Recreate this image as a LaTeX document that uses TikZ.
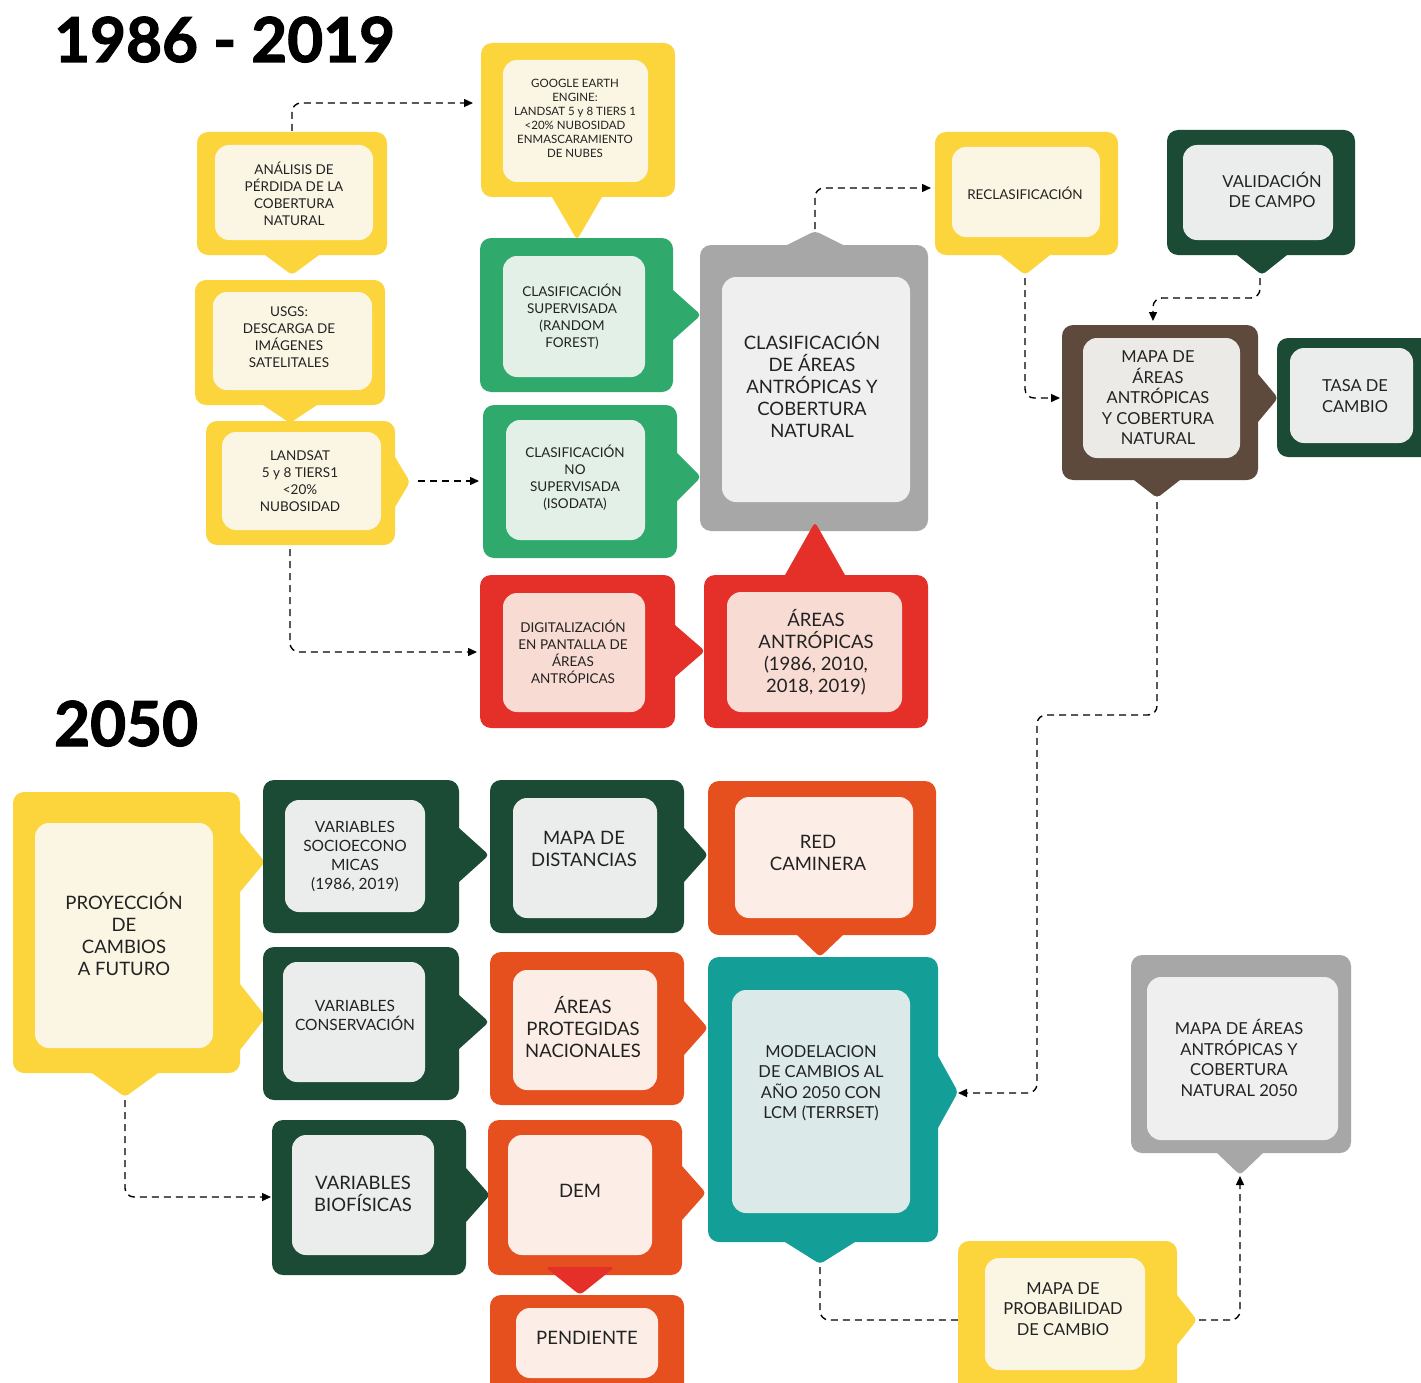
\documentclass[tikz,border=0pt]{standalone}
\usepackage{fontspec}
\setmainfont{Lato}
\newfontfamily\titlefont{Lato}[FakeBold=1.8]
\usetikzlibrary{arrows.meta}
\definecolor{yel}{HTML}{FCD43C}
\definecolor{yelin}{HTML}{FBF5E3}
\definecolor{grn}{HTML}{2FAA6C}
\definecolor{grnin}{HTML}{E2F0E7}
\definecolor{gry}{HTML}{A7A7A7}
\definecolor{gryin}{HTML}{EFEFEF}
\definecolor{redc}{HTML}{E5302A}
\definecolor{redin}{HTML}{F8DBD2}
\definecolor{dkg}{HTML}{1B4A35}
\definecolor{dkgin}{HTML}{EBEDEC}
\definecolor{brn}{HTML}{5D4A3D}
\definecolor{brnin}{HTML}{ECEAE7}
\definecolor{org}{HTML}{E6501F}
\definecolor{orgin}{HTML}{FCEEE6}
\definecolor{tealc}{HTML}{139F97}
\definecolor{tealin}{HTML}{DCE9E9}
\definecolor{txtc}{HTML}{222222}
\newcommand\obox[5]{\fill[#5,rounded corners=11pt] (#1,#2) rectangle (#3,#4);}
\newcommand\ibox[5]{\fill[#5,rounded corners=14pt] (#1,#2) rectangle (#3,#4);}
% pointer: name, x, y (base on edge), half width, length, colour
\newcommand\ptrD[6]{\fill[#6,rounded corners=4pt] ({#2-#4*(#5+8)/#5},{#3-8}) -- (#2,{#3+#5}) -- ({#2+#4*(#5+8)/#5},{#3-8}) -- cycle; \coordinate (#1) at (#2,{#3+#5});}
\newcommand\ptrU[6]{\fill[#6,rounded corners=4pt] ({#2-#4*(#5+8)/#5},{#3+8}) -- (#2,{#3-#5}) -- ({#2+#4*(#5+8)/#5},{#3+8}) -- cycle; \coordinate (#1) at (#2,{#3-#5});}
\newcommand\ptrR[6]{\fill[#6,rounded corners=4pt] ({#2-8},{#3-#4*(#5+8)/#5}) -- ({#2+#5},#3) -- ({#2-8},{#3+#4*(#5+8)/#5}) -- cycle; \coordinate (#1) at ({#2+#5},#3);}
\tikzset{
 lbl/.style 2 args={align=center,text=txtc,inner sep=0pt,font={\fontsize{#1}{#2}\selectfont}},
 txsmall/.style={lbl={13.5}{17}},
 txtiny/.style={lbl={11.5}{14}},
 txmid/.style={lbl={16.5}{20.5}},
 txvar/.style={lbl={15.5}{19}},
 txbig/.style={lbl={18.5}{22}},
 conn/.style={line width=1.4pt,dash pattern=on 7pt off 5pt,rounded corners=9pt},
 arr/.style={conn,-{Triangle[length=9pt,width=8pt]}},
 ttl/.style={anchor=base west,inner sep=0pt,font={\titlefont\bfseries\fontsize{62}{62}\selectfont}},
}
\begin{document}
\begin{tikzpicture}[x=1pt,y=-1pt]
\useasboundingbox (0,0) rectangle (1421,1383);
\clip (0,0) rectangle (1421,1383);
\fill[white] (0,0) rectangle (1421,1383);

\node[ttl] (t1) at (54,62) {1986 - 2019};
\node[ttl] (t2) at (54,746) {2050};

% ---------- top part ----------
\obox{197}{132}{387}{255}{yel}\ptrD{anaB}{292}{255}{27}{20}{yel}
\ibox{215}{145}{373}{240}{yelin}
\node[txsmall] (analisis) at (294,194) {ANÁLISIS DE\\PÉRDIDA DE LA\\COBERTURA\\NATURAL};

\obox{195}{280}{385}{405}{yel}\ptrD{usgB}{290}{405}{27}{18}{yel}
\obox{206}{421}{395}{545}{yel}\ptrR{lanR}{395}{482}{25}{15}{yel}
\ibox{213}{292}{372}{390}{yelin}
\node[txsmall] (usgs) at (289,337) {USGS:\\DESCARGA DE\\IMÁGENES\\SATELITALES};
\ibox{222}{432}{381}{530}{yelin}
\node[txsmall] (landsat) at (300,481) {LANDSAT\\5 y 8 TIERS1\\<20\%\\NUBOSIDAD};

\obox{481}{43}{675}{197}{yel}\ptrD{gooB}{577}{197}{25}{43}{yel}
\ibox{503}{60}{648}{182}{yelin}
\node[txtiny] (google) at (575,118) {GOOGLE EARTH\\ENGINE:\\LANDSAT 5 y 8 TIERS 1\\<20\% NUBOSIDAD\\ENMASCARAMIENTO\\DE NUBES};

\obox{480}{238}{673}{392}{grn}\ptrR{supR}{673}{315}{25}{28}{grn}
\ibox{503}{256}{645}{377}{grnin}
\node[txsmall] (sup) at (572,317) {CLASIFICACIÓN\\SUPERVISADA\\(RANDOM\\FOREST)};

\obox{483}{405}{677}{558}{grn}\ptrR{nosR}{677}{477}{24}{24}{grn}
\ibox{506}{420}{645}{540}{grnin}
\node[txsmall] (nosup) at (575,478) {CLASIFICACIÓN\\NO\\SUPERVISADA\\(ISODATA)};

\obox{700}{245}{928}{531}{gry}\ptrU{claT}{815}{245}{28}{14}{gry}
\ibox{722}{277}{910}{502}{gryin}
\node[txbig] (clasif) at (812,385) {CLASIFICACIÓN\\DE ÁREAS\\ANTRÓPICAS Y\\COBERTURA\\NATURAL};

\obox{480}{575}{675}{728}{redc}\ptrR{digR}{675}{651}{26}{30}{redc}
\ibox{503}{593}{645}{712}{redin}
\node[txsmall] (digit) at (573,652) {DIGITALIZACIÓN\\EN PANTALLA DE\\ÁREAS\\ANTRÓPICAS};

\obox{704}{575}{928}{728}{redc}\ptrU{areT}{815}{575}{30}{53}{redc}
\ibox{727}{592}{902}{712}{redin}
\node[txbig] (areas) at (816,652) {ÁREAS\\ANTRÓPICAS\\(1986, 2010,\\2018, 2019)};

\obox{935}{132}{1118}{255}{yel}\ptrD{recB}{1025}{255}{25}{20}{yel}
\ibox{952}{147}{1100}{237}{yelin}
\node[txsmall] (reclas) at (1025,193) {RECLASIFICACIÓN};

\obox{1167}{130}{1355}{255}{dkg}\ptrD{valB}{1262}{255}{25}{20}{dkg}
\ibox{1183}{145}{1333}{240}{dkgin}
\node[txmid] (valid) at (1272,190) {VALIDACIÓN\\DE CAMPO};

\obox{1062}{325}{1258}{480}{brn}\ptrR{mapR}{1258}{398}{24}{20}{brn}\ptrD{mapB}{1157}{480}{23}{18}{brn}
\ibox{1083}{338}{1240}{458}{brnin}
\node[txmid] (mapa) at (1158,398) {MAPA DE\\ÁREAS\\ANTRÓPICAS\\Y COBERTURA\\NATURAL};

\obox{1277}{338}{1440}{457}{dkg}
\ibox{1290}{348}{1413}{443}{dkgin}
\node[txmid] (tasa) at (1355,396) {TASA DE\\CAMBIO};

% ---------- bottom part ----------
\obox{13}{792}{240}{1073}{yel}\ptrR{proR1}{240}{862}{30}{25}{yel}\ptrR{proR2}{240}{1017}{33}{26}{yel}\ptrD{proB}{125}{1073}{33}{24}{yel}
\ibox{35}{823}{213}{1048}{yelin}
\node[txbig] (proy) at (124,934) {PROYECCIÓN\\DE\\CAMBIOS\\A FUTURO};

\obox{263}{780}{459}{933}{dkg}\ptrR{socR}{459}{855}{27}{30}{dkg}
\ibox{285}{800}{425}{912}{dkgin}
\node[txvar] (socio) at (355,857) {VARIABLES\\SOCIOECONO\\MICAS\\(1986, 2019)};

\obox{490}{780}{684}{933}{dkg}\ptrR{disR}{684}{855}{27}{24}{dkg}
\ibox{513}{798}{657}{918}{dkgin}
\node[txbig] (dist) at (584,849) {MAPA DE\\DISTANCIAS};

\obox{708}{781}{936}{935}{org}\ptrD{redB}{820}{935}{23}{22}{org}
\ibox{735}{797}{913}{918}{orgin}
\node[txbig] (red) at (818,853) {RED\\CAMINERA};

\obox{263}{947}{459}{1100}{dkg}\ptrR{conR}{459}{1022}{27}{30}{dkg}
\ibox{283}{962}{425}{1082}{dkgin}
\node[txvar] (cons) at (355,1015) {VARIABLES\\CONSERVACIÓN};

\obox{490}{952}{684}{1105}{org}\ptrR{apnR}{684}{1028}{27}{24}{org}
\ibox{513}{970}{657}{1090}{orgin}
\node[txbig] (apn) at (583,1027) {ÁREAS\\PROTEGIDAS\\NACIONALES};

\obox{708}{957}{938}{1242}{tealc}\ptrR{modR}{938}{1092}{36}{20}{tealc}\ptrD{modB}{820}{1242}{35}{22}{tealc}
\ibox{732}{990}{910}{1213}{tealin}
\node[txmid] (modela) at (821,1083) {MODELACION\\DE CAMBIOS AL\\AÑO 2050 CON\\LCM (TERRSET)};

\obox{1131}{955}{1351}{1153}{gry}\ptrD{m50B}{1240}{1153}{23}{22}{gry}
\ibox{1147}{977}{1338}{1140}{gryin}
\node[txmid] (m2050) at (1239,1058) {MAPA DE ÁREAS\\ANTRÓPICAS Y\\COBERTURA\\NATURAL 2050};

\obox{272}{1120}{466}{1275}{dkg}\ptrR{bioR}{466}{1195}{27}{24}{dkg}
\ibox{292}{1135}{434}{1255}{dkgin}
\node[txbig] (bio) at (363,1194) {VARIABLES\\BIOFÍSICAS};

\obox{490}{1295}{684}{1400}{org}
\obox{488}{1120}{682}{1275}{org}\ptrR{demR}{682}{1193}{27}{24}{org}\ptrD{demB}{580}{1275}{25}{20}{redc}
\ibox{508}{1135}{652}{1255}{orgin}
\node[txbig] (dem) at (580,1191) {DEM};
\ibox{516}{1308}{658}{1378}{orgin}
\node[txbig] (pend) at (587,1338) {PENDIENTE};

\obox{958}{1241}{1177}{1400}{yel}\ptrR{proBR}{1177}{1320}{25}{20}{yel}
\ibox{985}{1258}{1145}{1370}{yelin}
\node[txmid] (prob) at (1063,1309) {MAPA DE\\PROBABILIDAD\\DE CAMBIO};

% ---------- connectors ----------
\coordinate (c1s) at (292,131);  \coordinate (c1e) at (473,103);
\coordinate (c2s) at (418,481);  \coordinate (c2e) at (479,481);
\coordinate (c3s) at (290,549);  \coordinate (c3e) at (477,652);
\coordinate (c4s) at (815,229);  \coordinate (c4e) at (931,188);
\coordinate (c5s) at (1025,278); \coordinate (c5e) at (1060,398);
\coordinate (c6s) at (1260,278); \coordinate (c6m) at (1260,298); \coordinate (c6e) at (1153,321);
\coordinate (c7s) at (1157,502); \coordinate (c7m) at (1037,715); \coordinate (c7e) at (958,1093);
\coordinate (c8s) at (125,1100); \coordinate (c8e) at (271,1197);
\coordinate (c9s) at (820,1267); \coordinate (c9e) at (958,1320);
\coordinate (c10s) at (1199,1320); \coordinate (c10e) at (1240,1176);

\draw[arr] (c1s) |- (c1e);
\draw[arr] (c2s) -- (c2e);
\draw[arr] (c3s) |- (c3e);
\draw[arr] (c4s) |- (c4e);
\draw[arr] (c5s) |- (c5e);
\draw[arr] (c6s) -- (c6m) -| (c6e);
\draw[arr] (c7s) |- (c7m) |- (c7e);
\draw[arr] (c8s) |- (c8e);
\draw[conn] (c9s) |- (c9e);
\draw[arr] (c10s) -| (c10e);
\end{tikzpicture}
\end{document}
